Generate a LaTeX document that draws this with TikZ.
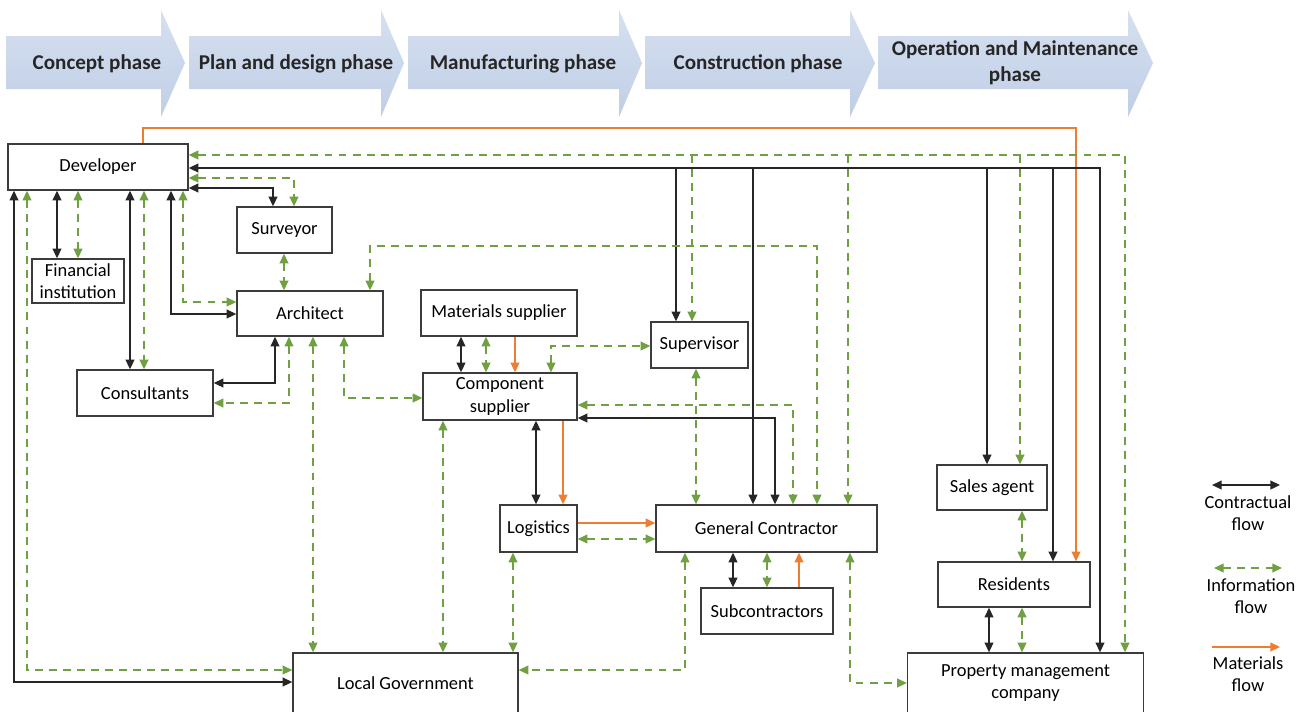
\documentclass[tikz,border=0pt]{standalone}
\usepackage{fontspec}
\setmainfont{Carlito}
\usetikzlibrary{arrows.meta}
\definecolor{infogreen}{RGB}{112,160,66}
\definecolor{matorange}{RGB}{237,125,49}
\definecolor{boxline}{RGB}{60,60,60}
\definecolor{phasetop}{RGB}{214,224,240}
\definecolor{phasebot}{RGB}{192,206,230}
\newcommand\nodefont{\fontsize{10.5}{12.7}\selectfont}
\newcommand\phasefont{\fontsize{12}{14.7}\selectfont\bfseries}

\begin{document}
\begin{tikzpicture}[x=0.02cm, y=-0.02cm,
    >={Triangle[length=5.5pt,width=5pt]},
    box/.style ={draw=boxline, line width=0.8pt, fill=white, align=center, inner sep=1pt, font=\nodefont},
    phase/.style ={top color=phasetop, bottom color=phasebot, draw=none},
    phasetext/.style ={align=center, font=\phasefont, text=black!85},
    legtext/.style ={align=center, font=\nodefont},
    con/.style ={line width=0.75pt, black!85},
    info/.style ={line width=0.75pt, infogreen, dash pattern=on 4.5pt off 3.5pt},
    mat/.style ={line width=0.75pt, matorange}]
   \clip (0,0) rectangle (1310,711);
   \fill[white] (0,0) rectangle (1310,711);
   % phases
   \path[phase] (6,36) -- (161,36) -- (161,10) -- (185,63) -- (161,117) -- (161,89) -- (6,89) -- cycle;
   \path[phase] (189,36) -- (381,36) -- (381,10) -- (404,63) -- (381,117) -- (381,89) -- (189,89) -- cycle;
   \path[phase] (408,36) -- (619,36) -- (619,10) -- (642,63) -- (619,117) -- (619,89) -- (408,89) -- cycle;
   \path[phase] (645,36) -- (850,36) -- (850,10) -- (875,63) -- (850,117) -- (850,89) -- (645,89) -- cycle;
   \path[phase] (878,36) -- (1128,36) -- (1128,10) -- (1153,63) -- (1128,117) -- (1128,89) -- (878,89) -- cycle;
   \node[phasetext] (concept) at (97,64) {Concept phase};
   \node[phasetext] (plan) at (296,64) {Plan and design phase};
   \node[phasetext] (manuf) at (523,64) {Manufacturing phase};
   \node[phasetext] (constr) at (758,64) {Construction phase};
   \node[phasetext] (operat) at (1015,63) {Operation and Maintenance\\phase};
   % actors
   \node[box, minimum width=3.6cm, minimum height=0.92cm] (dev) at (98,167) {Developer};
   \node[box, minimum width=1.84cm, minimum height=0.88cm] (fin) at (78,281) {Financial\\institution};
   \node[box, minimum width=1.9cm, minimum height=0.92cm] (sur) at (284.5,230) {Surveyor};
   \node[box, minimum width=2.92cm, minimum height=0.9cm] (arc) at (310,313.5) {Architect};
   \node[box, minimum width=2.72cm, minimum height=0.92cm] (cons) at (145,393) {Consultants};
   \node[box, minimum width=3.12cm, minimum height=0.92cm] (mat) at (499,313) {Materials supplier};
   \node[box, minimum width=1.94cm, minimum height=0.92cm] (sup) at (699.5,345) {Supervisor};
   \node[box, minimum width=3.08cm, minimum height=0.94cm] (comp) at (500,396.5) {Component\\supplier};
   \node[box, minimum width=1.54cm, minimum height=0.94cm] (log) at (538.5,528.5) {Logistics};
   \node[box, minimum width=4.42cm, minimum height=0.94cm] (gc) at (766.5,528.5) {General Contractor};
   \node[box, minimum width=2.64cm, minimum height=0.92cm] (sub) at (767,611) {Subcontractors};
   \node[box, minimum width=2.2cm, minimum height=0.9cm] (sales) at (992,487.5) {Sales agent};
   \node[box, minimum width=3.04cm, minimum height=0.9cm] (res) at (1014,584.5) {Residents};
   \node[box, minimum width=4.72cm, minimum height=1.2cm] (pm) at (1025.5,683) {Property management\\company};
   \node[box, minimum width=4.5cm, minimum height=1.2cm] (lg) at (405.5,683) {Local Government};
   % buses from the developer
   \coordinate (ibus) at (1125,155);
   \coordinate (cbus) at (1100,168);
   \coordinate (obus) at (1076,128);
   \coordinate (agc) at (817,246);
   \draw[mat,->] (dev.north -| 143,0) |- (obus) -- (res.north -| obus);
   \draw[info,<->] (dev.east |- ibus) -- (ibus) -- (pm.north -| ibus);
   \draw[info,->] (ibus -| 692,0) -- (sup.north -| 692,0);
   \draw[info,->] (ibus -| 848,0) -- (gc.north -| 848,0);
   \draw[info,->] (ibus -| 1020,0) -- (sales.north -| 1020,0);
   \draw[con,<->] (dev.east |- cbus) -- (cbus) -- (pm.north -| cbus);
   \draw[con,->] (cbus -| 676,0) -- (sup.north -| 676,0);
   \draw[con,->] (cbus -| 753,0) -- (gc.north -| 753,0);
   \draw[con,->] (cbus -| 987,0) -- (sales.north -| 987,0);
   \draw[con,->] (cbus -| 1053,0) -- (res.north -| 1053,0);
   \draw[info,<->] (dev.east |- 0,178) -| (sur.north -| 294,0);
   \draw[con,<->] (dev.east |- 0,188) -| (sur.north -| 273,0);
   \draw[con,<->] (dev.south -| 14,0) |- (lg.west |- 0,682);
   \draw[info,<->] (dev.south -| 27,0) |- (lg.west |- 0,670);
   \draw[con,<->] (dev.south -| 57,0) -- (fin.north -| 57,0);
   \draw[info,<->] (dev.south -| 78,0) -- (fin.north -| 78,0);
   \draw[con,<->] (dev.south -| 130,0) -- (cons.north -| 130,0);
   \draw[info,<->] (dev.south -| 144,0) -- (cons.north -| 144,0);
   \draw[con,<->] (dev.south -| 171,0) |- (arc.west |- 0,314);
   \draw[info,<->] (dev.south -| 183,0) |- (arc.west |- 0,302);
   % architect
   \draw[info,<->] (sur.south -| 284,0) -- (arc.north -| 284,0);
   \draw[con,<->] (arc.south -| 275,0) |- (cons.east |- 0,383);
   \draw[info,<->] (arc.south -| 289,0) |- (cons.east |- 0,403);
   \draw[info,<->] (arc.south -| 313,0) -- (lg.north -| 313,0);
   \draw[info,<->] (arc.south -| 344,0) |- (comp.west |- 0,398);
   \draw[info,<->] (arc.north -| 370,0) |- (agc) -- (gc.north -| agc);
   % suppliers
   \draw[con,<->] (mat.south -| 461,0) -- (comp.north -| 461,0);
   \draw[info,<->] (mat.south -| 486,0) -- (comp.north -| 486,0);
   \draw[mat,->] (mat.south -| 515,0) -- (comp.north -| 515,0);
   \draw[info,<->] (comp.north -| 551,0) |- (sup.west |- 0,346);
   \draw[info,<->] (comp.south -| 443,0) -- (lg.north -| 443,0);
   \draw[con,<->] (comp.south -| 536,0) -- (log.north -| 536,0);
   \draw[mat,->] (comp.south -| 563,0) -- (log.north -| 563,0);
   \draw[info,<->] (comp.east |- 0,405) -| (gc.north -| 793,0);
   \draw[con,<->] (comp.east |- 0,418) -| (gc.north -| 775,0);
   % construction
   \draw[info,<->] (sup.south -| 696,0) -- (gc.north -| 696,0);
   \draw[mat,->] (log.east |- 0,523) -- (gc.west |- 0,523);
   \draw[info,<->] (log.east |- 0,539) -- (gc.west |- 0,539);
   \draw[info,<->] (log.south -| 513,0) -- (lg.north -| 513,0);
   \draw[info,<->] (gc.south -| 685,0) |- (lg.east |- 0,670);
   \draw[con,<->] (gc.south -| 733,0) -- (sub.north -| 733,0);
   \draw[info,<->] (gc.south -| 767,0) -- (sub.north -| 767,0);
   \draw[mat,->] (sub.north -| 799,0) -- (gc.south -| 799,0);
   \draw[info,<->] (gc.south -| 850,0) |- (pm.west |- 0,683);
   % operation
   \draw[info,<->] (sales.south -| 1022,0) -- (res.north -| 1022,0);
   \draw[con,<->] (res.south -| 989,0) -- (pm.north -| 989,0);
   \draw[info,<->] (res.south -| 1022,0) -- (pm.north -| 1022,0);
   % legend
   \coordinate (lc1) at (1212,485);
   \coordinate (lc2) at (1280,485);
   \coordinate (li1) at (1214,568);
   \coordinate (li2) at (1282,568);
   \coordinate (lm1) at (1212,647);
   \coordinate (lm2) at (1280,647);
   \draw[con,line width=1pt,<->] (lc1) -- (lc2);
   \draw[info,<->] (li1) -- (li2);
   \draw[mat,->] (lm1) -- (lm2);
   \node[legtext] (lcon) at (1248,513) {Contractual\\flow};
   \node[legtext] (linf) at (1251,596) {Information\\flow};
   \node[legtext] (lmat) at (1248,674) {Materials\\flow};
\end{tikzpicture}
\end{document}
